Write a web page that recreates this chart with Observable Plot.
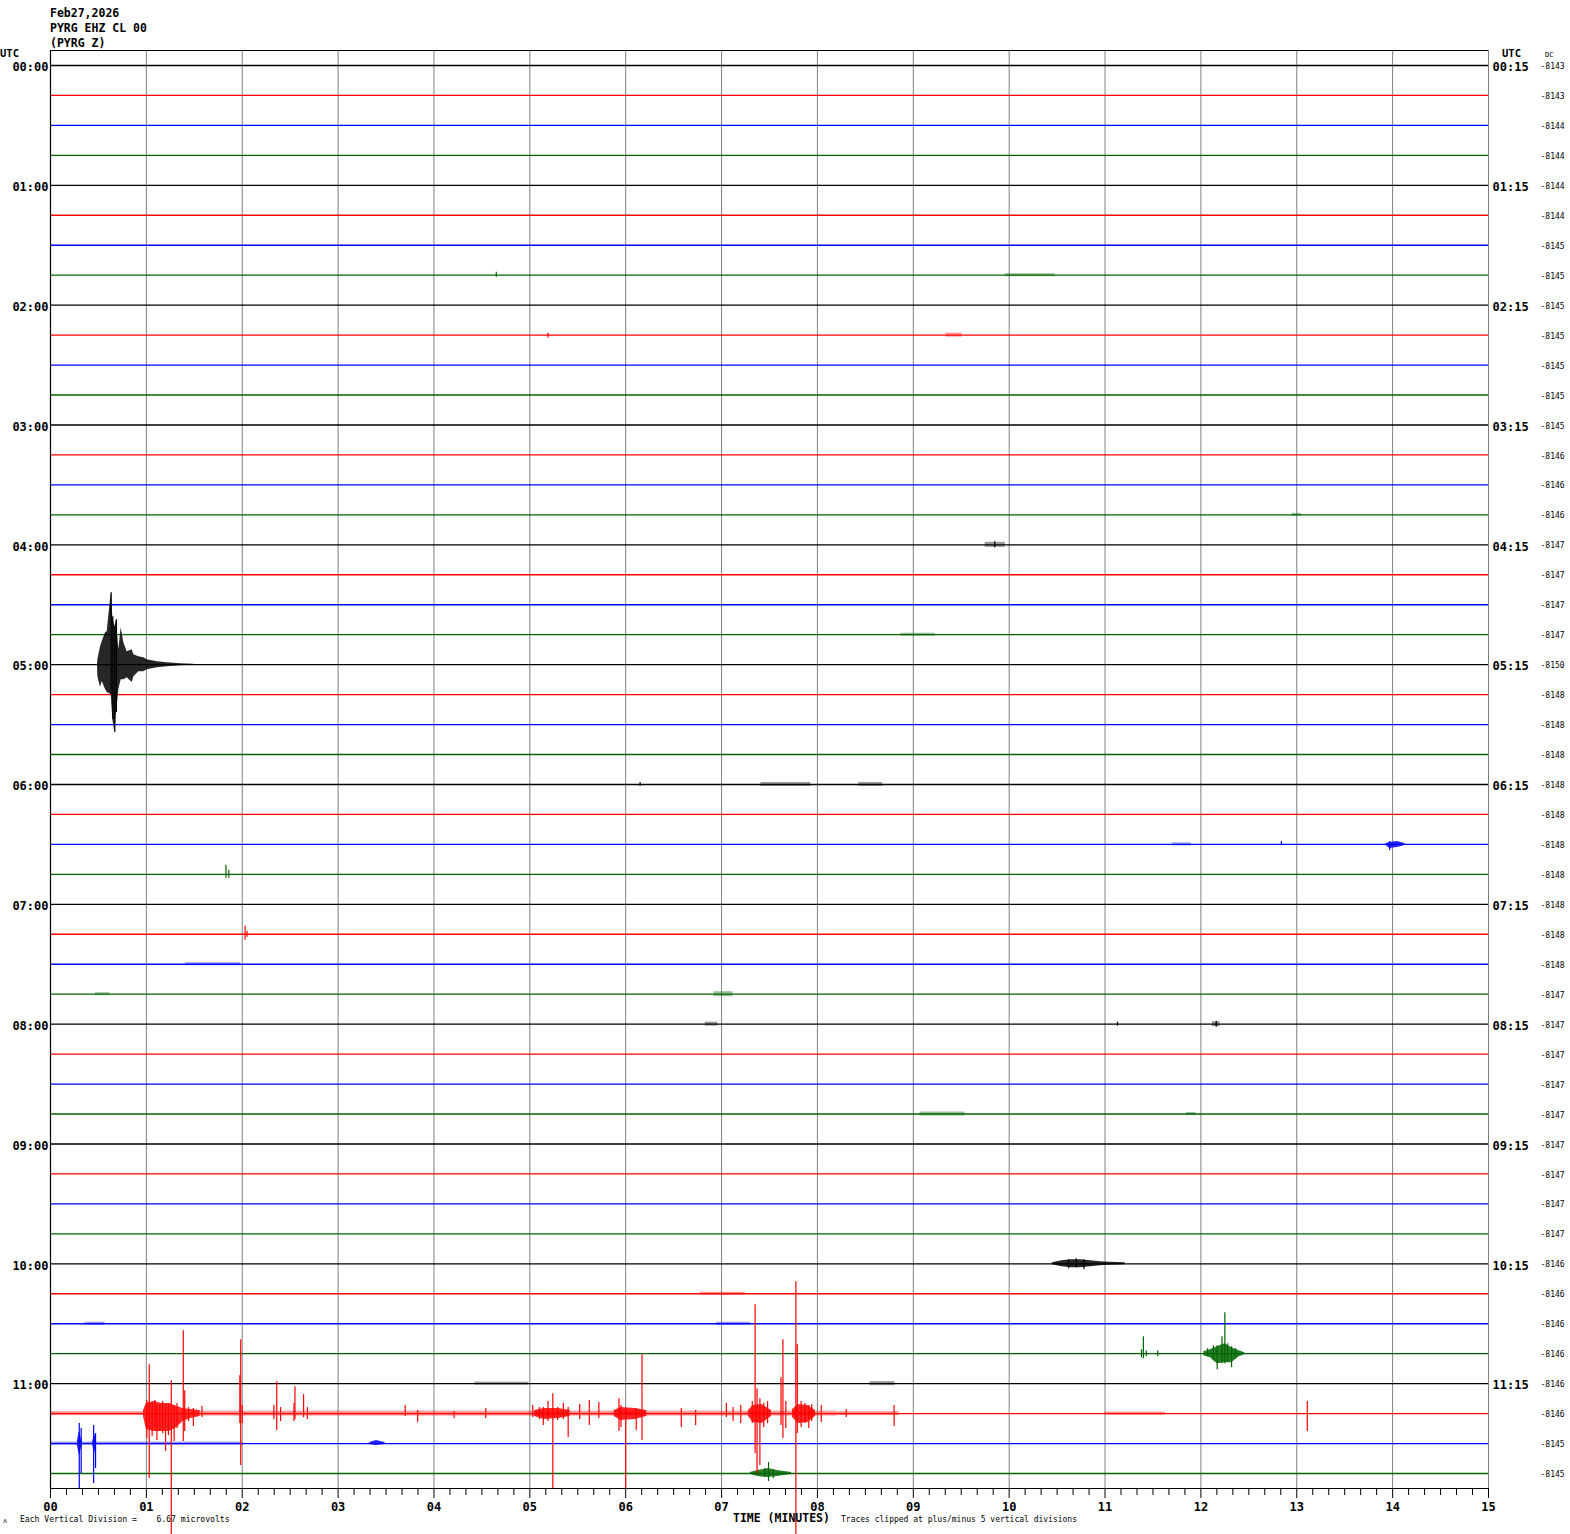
<!DOCTYPE html>
<html><head><meta charset="utf-8">
<script src="https://cdn.jsdelivr.net/npm/d3@7"></script>
<script src="https://cdn.jsdelivr.net/npm/@observablehq/plot@0.6"></script>
<style>
html,body{margin:0;padding:0;background:#fff;overflow:hidden}
svg text{white-space:pre}
</style></head><body><div id="chart"></div>
<script>
// ---------- data ----------
const titleLines = ["Feb27,2026", "PYRG EHZ CL 00", "(PYRG Z)"];
const traceColors = ["#000000", "#ff0000", "#0000ff", "#006400"];
const rowCount = 48;            // 15-minute traces from 00:00 to 11:45 UTC
const countsPerTrace = 30;      // amplitude counts between adjacent traces
const hourLabelsLeft = ["00:00","01:00","02:00","03:00","04:00","05:00","06:00","07:00","08:00","09:00","10:00","11:00"];
const hourLabelsRight = ["00:15","01:15","02:15","03:15","04:15","05:15","06:15","07:15","08:15","09:15","10:15","11:15"];
const dcValues = [-8143,-8143,-8144,-8144,-8144,-8144,-8145,-8145,-8145,-8145,-8145,-8145,
  -8145,-8146,-8146,-8146,-8147,-8147,-8147,-8147,-8150,-8148,-8148,-8148,
  -8148,-8148,-8148,-8148,-8148,-8148,-8148,-8147,-8147,-8147,-8147,-8147,
  -8147,-8147,-8147,-8147,-8146,-8146,-8146,-8146,-8146,-8146,-8145,-8145];
const minuteTicks = [0,1,2,3,4,5,6,7,8,9,10,11,12,13,14,15];
const minuteLabels = ["00","01","02","03","04","05","06","07","08","09","10","11","12","13","14","15"];

// spikes: [trace, minute, up counts, down counts]
const spikes = [
  [46,0.30,20,46],[46,0.32,15,30],[46,0.45,18,40],[46,0.47,10,25],
  [45,1.005,13,25],[45,1.03,49,65],[45,1.06,10,23],[45,1.09,13,15],[45,1.11,8,27],[45,1.14,9,18],
  [45,1.17,12,20],[45,1.20,7,38],[45,1.23,10,22],[45,1.26,33,122],[45,1.29,8,28],[45,1.32,10,15],
  [45,1.385,83,28],[45,1.40,23,18],[45,1.44,6,8],[45,1.49,5,13],[45,1.58,7,4],
  [45,1.975,38,10],[45,1.984,74,52],[45,2.00,8,10],
  [45,2.33,8,6],[45,2.36,32,17],[45,2.40,6,8],[45,2.54,10,8],[45,2.55,27,6],[45,2.64,19,4],[45,2.68,6,6],
  [45,3.70,8,3],[45,3.83,3,9],[45,4.21,2,5],[45,4.54,5,5],
  [45,5.03,8,4],[45,5.10,6,6],[45,5.14,6,12],[45,5.19,12,8],[45,5.24,20,75],[45,5.29,6,7],[45,5.35,10,6],
  [45,5.40,6,24],[45,5.52,9,6],[45,5.62,13,12],[45,5.72,11,5],[45,5.93,15,18],[45,5.95,8,14],
  [45,6.00,5,76],[45,6.11,5,17],[45,6.17,59,27],[45,6.58,5,14],[45,6.73,3,12],
  [45,7.05,10,4],[45,7.12,6,8],[45,7.20,8,10],
  [45,7.32,12,10],[45,7.35,109,40],[45,7.37,25,60],[45,7.40,15,52],[45,7.44,10,14],[45,7.48,12,10],
  [45,7.62,36,12],[45,7.64,74,25],[45,7.67,12,15],
  [45,7.775,132,125],[45,7.79,69,20],[45,7.83,12,14],[45,7.87,10,10],[45,7.91,8,15],[45,7.94,9,8],
  [45,8.04,8,9],[45,8.30,4,4],[45,8.80,8,13],[45,13.11,12,18],
  [43,11.40,17,5],[43,11.38,4,4],[43,11.43,3,3],[43,11.55,3,3],
  [43,12.07,5,3],[43,12.13,8,7],[43,12.17,8,16],[43,12.22,17,10],[43,12.25,41,10],[43,12.28,10,8],[43,12.32,7,14],[43,12.36,5,5],
  [47,7.49,11,8],[47,7.45,5,4],[47,7.54,4,5],
  [40,10.62,4,5],[40,10.70,5,4],[40,10.78,4,6],
  [20,0.633,72,30],[20,0.671,38,68],[20,0.650,48,55],[20,0.688,45,48],
  [26,12.84,3,1],[26,13.97,3,6],[27,1.83,9,4],[27,1.86,4,4],[29,2.03,8,6],[29,2.05,3,3],
  [7,4.65,3,2],[16,9.85,3,3],[32,12.16,3,3],[32,11.13,2,2],[9,5.19,2,3],[24,6.15,2,2]
];

// wave-train envelopes: [minute, up counts, down counts]
const envQuake0500 = [[0.49,0,0],[0.494,5,12],[0.522,18,23],[0.539,23,17],[0.574,32,25],[0.591,33,28],
  [0.633,72,30],[0.650,48,55],[0.671,38,68],[0.688,45,48],[0.713,15,25],[0.737,37,15],[0.765,22,15],
  [0.800,13,13],[0.852,15,18],[0.870,10,12],[0.921,8,7],[0.973,7,7],[1.008,5,5],[1.113,3,3],
  [1.217,2,2],[1.356,1,1],[1.495,0.5,0.5]];
const envTrain1000 = [[10.45,1,1],[10.55,3,3],[10.65,4,4],[10.74,4,4],[10.85,3,3],[10.95,2,2],[11.05,1.5,1.5],[11.21,1,1]];
const envTrain1045 = [[12.03,2,2],[12.10,4,4],[12.17,7,10],[12.25,10,9],[12.32,6,9],[12.40,3,3],[12.46,1,1]];
const envTrain1145 = [[7.30,1,1],[7.38,3,3],[7.49,5,4],[7.58,3,3],[7.73,1,1]];
const envBurst1115a = [[0.97,3,3],[1.00,10,16],[1.08,12,18],[1.16,10,18],[1.24,10,18],[1.32,7,14],[1.38,5,8],[1.46,4,5],[1.56,3,3]];
const envBurst1115b = [[5.05,3,3],[5.15,5,6],[5.30,5,5],[5.42,3,3]];
const envBurst1115c = [[5.88,3,3],[5.95,6,7],[6.10,5,6],[6.22,3,3]];
const envBurst1115d = [[7.28,3,3],[7.33,8,9],[7.42,9,10],[7.52,3,3]];
const envBurst1115e = [[7.74,4,4],[7.80,9,10],[7.90,8,9],[7.98,3,3]];
const envBlip1130a = [[0.28,2,2],[0.30,12,12],[0.33,2,2]];
const envBlip1130b = [[0.44,2,2],[0.46,10,10],[0.48,2,2]];
const envBlip1130c = [[3.33,1,1],[3.40,3,2],[3.49,1,1]];
const envBlip0630 = [[13.93,1,1],[13.97,2,4],[14.05,3,3],[14.13,1,1]];
const envelopeTraces = [[20,envQuake0500],[40,envTrain1000],[43,envTrain1045],[47,envTrain1145],
  [45,envBurst1115a],[45,envBurst1115b],[45,envBurst1115c],[45,envBurst1115d],[45,envBurst1115e],
  [46,envBlip1130a],[46,envBlip1130b],[46,envBlip1130c],[26,envBlip0630]];

// windows of slightly raised noise: [trace, from minute, to minute, half-width counts]
const noiseWindows = [
  [7,9.96,10.48,1.5],[9,9.34,9.51,2],[15,12.95,13.05,1.5],[16,9.75,9.96,2.5],[19,8.87,9.23,1.5],
  [24,7.41,7.93,2],[24,8.43,8.68,2],[26,11.7,11.9,1.5],[30,1.41,1.98,1.5],[31,6.92,7.12,2.5],
  [31,0.47,0.62,1.5],[32,6.83,6.96,2],[32,12.12,12.2,2.5],[35,9.07,9.54,2],[35,11.85,11.95,1.5],
  [41,6.78,7.25,1.5],[42,0.36,0.57,1.5],[42,6.95,7.3,1.5],[44,8.55,8.81,2],[44,4.43,4.99,1.5],
  [45,0,0.98,2],[45,1.55,8.2,2.5],[45,8.2,8.85,2],[45,11.0,11.63,1.5],[46,0,2.0,1.5]
];

// ---------- build ----------
const rows = d3.range(rowCount);
const colorOf = r => traceColors[r % 4];
const yOf = r => r * countsPerTrace;
const envPoints = envelopeTraces.flatMap(([r, pts], i) => pts.map(([t, up, dn]) => ({id: i, r, t, up, dn})));
const minorTicks = d3.range(0, 90.5).map(k => k / 6).filter(v => Math.abs(v - Math.round(v)) > 1e-6);
const hourRows = hourLabelsLeft.map((s, i) => i * 4);

const chart = Plot.plot({
  width: 1570, height: 1534,
  marginLeft: 50, marginRight: 82, marginTop: 50, marginBottom: 46,
  x: {domain: [0, 15], axis: null},
  y: {domain: [-countsPerTrace / 2, (rowCount - 0.5) * countsPerTrace], reverse: true, axis: null},
  color: {type: "identity"},
  style: {fontFamily: "'DejaVu Sans Mono', monospace", background: "white", color: "black"},
  marks: [
    Plot.ruleX(minuteTicks.slice(1), {stroke: "#808080", strokeWidth: 1}),
    Plot.ruleY(rows, {y: yOf, stroke: colorOf, strokeWidth: 1.3}),
    Plot.rect(noiseWindows, {x1: d => d[1], x2: d => d[2], y1: d => yOf(d[0]) - d[3], y2: d => yOf(d[0]) + d[3], fill: d => colorOf(d[0]), fillOpacity: 0.4}),
    Plot.areaY(envPoints, {x: "t", y1: d => yOf(d.r) - d.up, y2: d => yOf(d.r) + d.dn, z: "id", fill: d => colorOf(d.r), fillOpacity: 0.85}),
    Plot.ruleX(spikes, {x: d => d[1], y1: d => yOf(d[0]) - d[2], y2: d => yOf(d[0]) + d[3], stroke: d => colorOf(d[0]), strokeWidth: 1.2}),
    Plot.ruleY([-countsPerTrace / 2], {stroke: "black", strokeWidth: 1.2}),
    Plot.ruleY([(rowCount - 0.5) * countsPerTrace], {stroke: "black", strokeWidth: 1.2}),
    Plot.ruleX([0], {stroke: "black", strokeWidth: 1.2}),
    Plot.axisX(minorTicks, {anchor: "bottom", tickSize: 7, tickFormat: () => "", label: null}),
    Plot.axisX(minuteTicks, {anchor: "bottom", tickSize: 10, tickPadding: 4, tickFormat: (d, i) => minuteLabels[d], label: null, fontSize: 12, fontWeight: "bold"}),
    Plot.text(hourRows, {y: yOf, text: (r, i) => hourLabelsLeft[i], frameAnchor: "left", dx: -2, dy: 2, textAnchor: "end", fontSize: 12, fontWeight: "bold"}),
    Plot.text(hourRows, {y: yOf, text: (r, i) => hourLabelsRight[i], frameAnchor: "right", dx: 4, dy: 2, textAnchor: "start", fontSize: 12, fontWeight: "bold"}),
    Plot.text(rows, {y: yOf, text: r => String(dcValues[r]), frameAnchor: "right", dx: 52, dy: 1, textAnchor: "start", fontSize: 8})
  ]
});
document.getElementById("chart").appendChild(chart);

const svg = d3.select(chart);
const addText = (x, y, s, size, weight, anchor) => svg.append("text")
  .attr("x", x).attr("y", y).attr("font-size", size).attr("font-weight", weight || "normal")
  .attr("text-anchor", anchor || "start").attr("fill", "black")
  .attr("font-family", "'DejaVu Sans Mono', monospace").attr("xml:space", "preserve").text(s);
titleLines.forEach((s, i) => addText(50, 17 + 15 * i, s, 11.5, "bold"));
addText(0, 57, "UTC", 10.5, "bold");
addText(1502, 57, "UTC", 10.5, "bold");
addText(1545, 57, "DC", 7);
addText(3, 1523, "\u028C", 7);
addText(20, 1522, "Each Vertical Division =    6.67 microvolts", 8.1);
addText(733, 1522, "TIME (MINUTES)", 11.5, "bold");
addText(841, 1522, "Traces clipped at plus/minus 5 vertical divisions", 8);
</script></body></html>
